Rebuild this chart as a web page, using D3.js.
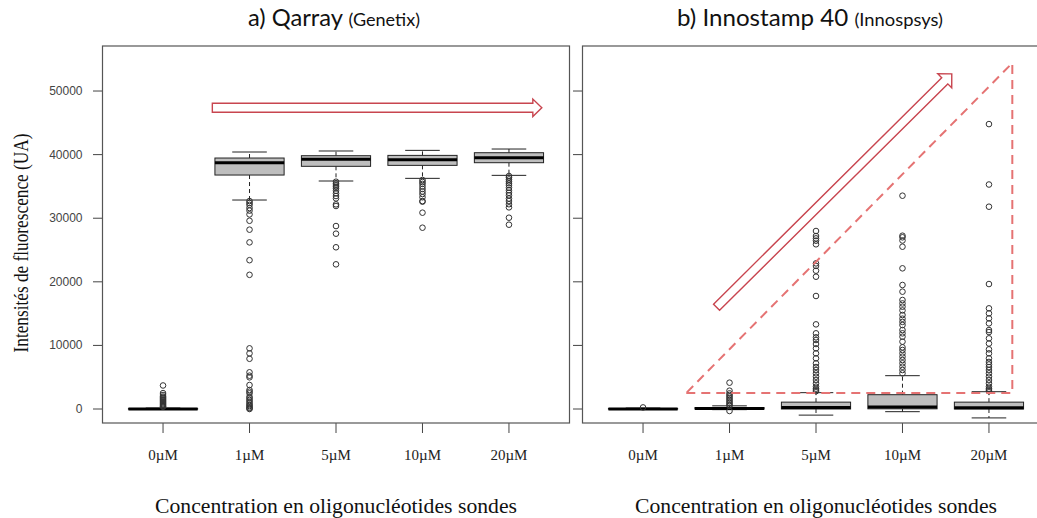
<!DOCTYPE html>
<html>
<head>
<meta charset="utf-8">
<script src="https://cdn.jsdelivr.net/npm/d3@7/dist/d3.min.js"></script>
<style>
  body { margin: 0; background: #fff; }
  svg { display: block; }
</style>
</head>
<body>
<div id="vis"></div>
<script>
var categories = ["0µM", "1µM", "5µM", "10µM", "20µM"];

// a) Qarray
var qarrayLow    = [-40, 32860, 35850, 36270, 36740];
var qarrayQ1     = [0, 36790, 38160, 38310, 38730];
var qarrayMedian = [20, 38730, 39260, 39200, 39510];
var qarrayQ3     = [60, 39465, 39830, 39880, 40300];
var qarrayHigh   = [150, 40410, 40570, 40670, 40880];
var qarrayOut = [
  [3700, 2500, 2200, 1950, 1800, 1650, 1500, 1350, 1200, 1050, 900, 750, 600, 450, 350],
  [32700, 32400, 32100, 31600, 31200, 30600, 29600, 28200, 26200, 23400, 21100,
   9540, 8750, 7900, 5770, 5240, 4980, 3770, 2990, 2720, 2460, 1940, 1700, 1420, 1150, 890, 650, 470, 250, 110, 0],
  [35740, 35480, 35220, 34950, 34700, 34320, 33910, 33490, 33120, 32180, 31920, 28770, 27570, 25430, 22750],
  [36010, 35700, 35400, 35000, 34600, 34200, 33800, 33300, 32700, 32600, 30870, 28510],
  [36640, 36400, 36100, 35800, 35500, 35200, 34800, 34400, 34000, 33600, 33100, 32700, 32200, 31710, 30080, 28980]
];

// b) Innostamp 40
var innoLow    = [-60, -100, -960, -420, -1400];
var innoQ1     = [0, 0, 0, 30, 0];
var innoMedian = [20, 80, 230, 300, 210];
var innoQ3     = [70, 220, 1080, 2250, 1080];
var innoHigh   = [150, 500, 2570, 5240, 2720];
var innoOut = [
  [250],
  [4140, 2880, 2460, 2200, 1950, 1700, 1450, 1200, 950, 700, 500, -310],
  [27990, 27200, 26830, 26470, 25900, 22900, 22500, 21750, 20800, 17770, 13310, 11900, 11270, 10850, 10220,
   9540, 8750, 7970, 7180, 6600, 6130, 5610, 5080, 4560, 4040, 3510, 3200, 2990, 2800],
  [33540, 27250, 27000, 26500, 25520, 22120, 19500, 18450, 17140, 16600, 16090, 15500, 14780, 14200, 13700,
   13200, 12420, 11900, 11370, 10590, 9700, 9280, 8750, 8230, 7700, 7180, 6650, 6130, 5610],
  [44800, 35300, 31810, 19650, 15830, 15040, 14250, 13470, 12420, 12100, 11110, 10300, 9380, 8750, 7970,
   7400, 7000, 6600, 6130, 5610, 5080, 4560, 4040, 3510, 3200, 2990, 2800]
];

var yTicks = [0, 10000, 20000, 30000, 40000, 50000];

// annotations, in (category position, value) units
var flatArrow = [[1.57, 47360], [5.38, 47360]];
var riseArrow = [[1.85, 16000], [4.57, 52700]];
var dashedTriangle = [[1.50, 2520], [5.27, 2520], [5.27, 54400]];

var W = 1037, H = 518;
var svg = d3.select("#vis").append("svg")
  .attr("width", W).attr("height", H);

var y = d3.scaleLinear().domain([-2200, 57080]).range([423, 46]);

var panels = [
  { left: 102.5, title: "a) Qarray", sub: "(Genetix)", labels: true, titleW: 172, titleDx: -2,
    low: qarrayLow, q1: qarrayQ1, med: qarrayMedian, q3: qarrayQ3, high: qarrayHigh, out: qarrayOut },
  { left: 582.5, title: "b) Innostamp 40", sub: "(Innospsys)", labels: false, titleW: 266, titleDx: -6,
    low: innoLow, q1: innoQ1, med: innoMedian, q3: innoQ3, high: innoHigh, out: innoOut }
];

function arrowPath(p0, p1, w, hw, hl) {
  var dx = p1[0] - p0[0], dy = p1[1] - p0[1];
  var len = Math.sqrt(dx * dx + dy * dy);
  var ux = dx / len, uy = dy / len, nx = -uy, ny = ux;
  var bx = p1[0] - ux * hl, by = p1[1] - uy * hl;
  var pts = [
    [p0[0] + nx * w, p0[1] + ny * w],
    [bx + nx * w, by + ny * w],
    [bx + nx * hw, by + ny * hw],
    [p1[0], p1[1]],
    [bx - nx * hw, by - ny * hw],
    [bx - nx * w, by - ny * w],
    [p0[0] - nx * w, p0[1] - ny * w]
  ];
  return "M" + pts.map(function(p) { return p[0] + "," + p[1]; }).join("L") + "Z";
}

panels.forEach(function(p, pi) {
  var x = d3.scaleLinear().domain([0.3, 5.7]).range([p.left, p.left + 467]);
  var g = svg.append("g");
  var bw = x(1.4) - x(1);   // half box width
  var cw = x(1.2) - x(1);   // half cap width

  // y ticks
  g.selectAll(".ytick").data(yTicks).enter().append("line")
    .attr("x1", p.left - 9.5).attr("x2", p.left)
    .attr("y1", function(d) { return y(d); })
    .attr("y2", function(d) { return y(d); })
    .attr("stroke", "#444").attr("stroke-width", 1);
  if (p.labels) {
    g.selectAll(".ylab").data(yTicks).enter().append("text")
      .attr("x", p.left - 20).attr("y", function(d) { return y(d) + 4; })
      .attr("text-anchor", "end")
      .attr("font-family", "Liberation Sans, Arial, sans-serif")
      .attr("font-size", 12).attr("fill", "#444")
      .text(function(d) { return d; });
  }

  // x ticks + labels
  g.selectAll(".xtick").data(categories).enter().append("line")
    .attr("x1", function(d, i) { return x(i + 1); })
    .attr("x2", function(d, i) { return x(i + 1); })
    .attr("y1", 423).attr("y2", 433)
    .attr("stroke", "#444");
  g.selectAll(".xlab").data(categories).enter().append("text")
    .attr("x", function(d, i) { return x(i + 1); })
    .attr("y", 460)
    .attr("text-anchor", "middle")
    .attr("font-family", "Liberation Serif, Times New Roman, serif")
    .attr("font-size", 15).attr("fill", "#222")
    .text(function(d) { return d; });

  // boxes
  categories.forEach(function(c, i) {
    var cx = x(i + 1);
    var bg = g.append("g");
    bg.append("line").attr("x1", cx).attr("x2", cx)
      .attr("y1", y(p.q3[i])).attr("y2", y(p.high[i]))
      .attr("stroke", "#222").attr("stroke-dasharray", "4,3");
    bg.append("line").attr("x1", cx).attr("x2", cx)
      .attr("y1", y(p.q1[i])).attr("y2", y(p.low[i]))
      .attr("stroke", "#222").attr("stroke-dasharray", "4,3");
    [p.high[i], p.low[i]].forEach(function(v) {
      bg.append("line").attr("x1", cx - cw).attr("x2", cx + cw)
        .attr("y1", y(v)).attr("y2", y(v)).attr("stroke", "#222");
    });
    bg.append("rect")
      .attr("x", cx - bw).attr("width", 2 * bw)
      .attr("y", y(p.q3[i])).attr("height", Math.max(0.5, y(p.q1[i]) - y(p.q3[i])))
      .attr("fill", "#bebebe").attr("stroke", "#222").attr("stroke-width", 1);
    bg.append("line").attr("x1", cx - bw).attr("x2", cx + bw)
      .attr("y1", y(p.med[i])).attr("y2", y(p.med[i]))
      .attr("stroke", "#000").attr("stroke-width", 3);
    bg.selectAll("circle").data(p.out[i]).enter().append("circle")
      .attr("cx", cx).attr("cy", function(d) { return y(d); })
      .attr("r", 2.8).attr("fill", "none")
      .attr("stroke", "#333").attr("stroke-width", 1);
  });

  // frame
  g.append("rect").attr("x", p.left).attr("y", 46)
    .attr("width", 467).attr("height", 377)
    .attr("fill", "none").attr("stroke", "#555").attr("stroke-width", 1.2);

  // title
  var cxp = p.left + 233.5;
  var t = g.append("text").attr("x", cxp + p.titleDx).attr("y", 26)
    .attr("text-anchor", "middle")
    .attr("font-family", "Lato, Open Sans, sans-serif").attr("fill", "#111")
    .attr("textLength", p.titleW).attr("lengthAdjust", "spacingAndGlyphs");
  t.append("tspan").attr("font-size", 23).text(p.title + " ");
  t.append("tspan").attr("font-size", 17.5).text(p.sub);

  // x title
  g.append("text").attr("x", cxp).attr("y", 513)
    .attr("text-anchor", "middle")
    .attr("font-family", "Liberation Serif, Times New Roman, serif")
    .attr("font-size", 20).attr("fill", "#111")
    .attr("textLength", 362).attr("lengthAdjust", "spacingAndGlyphs")
    .text("Concentration en oligonucléotides sondes");

  // annotations
  var px = function(pt) { return [x(pt[0]), y(pt[1])]; };
  if (pi === 0) {
    g.append("path").attr("d", arrowPath(px(flatArrow[0]), px(flatArrow[1]), 4.5, 8.7, 9))
      .attr("fill", "#fff").attr("stroke", "#c8454f").attr("stroke-width", 1.4);
  } else {
    g.append("path").attr("d", arrowPath(px(riseArrow[0]), px(riseArrow[1]), 4.3, 9.9, 9.9))
      .attr("fill", "#fff").attr("stroke", "#c8454f").attr("stroke-width", 1.4);
    g.append("path")
      .attr("d", "M" + dashedTriangle.map(function(d) { return px(d).join(","); }).join("L") + "Z")
      .attr("fill", "none").attr("stroke", "#e57373").attr("stroke-width", 2)
      .attr("stroke-dasharray", "9,6");
  }
});

// y axis title
svg.append("text")
  .attr("transform", "translate(28,243) rotate(-90)")
  .attr("text-anchor", "middle")
  .attr("font-family", "Liberation Serif, Times New Roman, serif")
  .attr("font-size", 20).attr("fill", "#111")
  .attr("textLength", 219).attr("lengthAdjust", "spacingAndGlyphs")
  .text("Intensités de fluorescence (UA)");
</script>
</body>
</html>
